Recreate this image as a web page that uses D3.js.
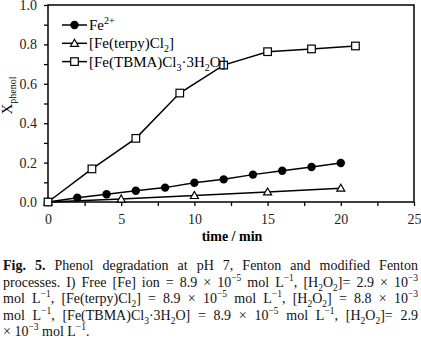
<!DOCTYPE html>
<html>
<head>
<meta charset="utf-8">
<script src="https://cdn.jsdelivr.net/npm/d3@7"></script>
<style>
  body { margin: 0; background: #fff; font-family: "Liberation Serif", "DejaVu Serif", serif; }
  #wrap { position: relative; width: 421px; height: 340px; overflow: hidden; }
  #caption { position: absolute; left: 3px; top: 258px; width: 415px; font-size: 14px; line-height: 16.6px; color: #111; }
  #caption .ln { text-align: justify; text-align-last: justify; white-space: nowrap; }
  #caption .ln.last { text-align-last: left; }
  #caption sub, #caption sup { font-size: 9.5px; line-height: 0; }
</style>
</head>
<body>
<div id="wrap">
<div id="chart"></div>
<div id="caption">
  <div class="ln"><b>Fig. 5.</b> Phenol degradation at pH 7, Fenton and modified Fenton</div>
  <div class="ln">processes. I) Free [Fe] ion = 8.9 × 10<sup>−5</sup> mol L<sup>−1</sup>, [H<sub>2</sub>O<sub>2</sub>]= 2.9 × 10<sup>−3</sup></div>
  <div class="ln">mol L<sup>−1</sup>, [Fe(terpy)Cl<sub>2</sub>] = 8.9 × 10<sup>−5</sup> mol L<sup>−1</sup>, [H<sub>2</sub>O<sub>2</sub>] = 8.8 × 10<sup>−3</sup></div>
  <div class="ln">mol L<sup>−1</sup>, [Fe(TBMA)Cl<sub>3</sub>·3H<sub>2</sub>O] = 8.9 × 10<sup>−5</sup> mol L<sup>−1</sup>, [H<sub>2</sub>O<sub>2</sub>]= 2.9</div>
  <div class="ln last">× 10<sup>−3</sup> mol L<sup>−1</sup>.</div>
</div>
</div>
<script>
// data
var fe2_time = [0, 2, 4, 6, 8, 10, 12, 14, 16, 18, 20];
var fe2_x = [0, 0.022, 0.039, 0.057, 0.073, 0.098, 0.115, 0.139, 0.159, 0.178, 0.198];
var terpy_time = [0, 5, 10, 15, 20];
var terpy_x = [0, 0.015, 0.033, 0.051, 0.070];
var tbma_time = [0, 3, 6, 9, 12, 15, 18, 21];
var tbma_x = [0, 0.168, 0.323, 0.553, 0.695, 0.763, 0.777, 0.792];
var x_ticks = [0, 5, 10, 15, 20, 25];
var y_ticks = [0, 0.2, 0.4, 0.6, 0.8, 1.0];

var margin = {top: 5, right: 7, bottom: 138, left: 48},
    width = 421 - margin.left - margin.right,
    height = 340 - margin.top - margin.bottom;

var svg = d3.select("#chart")
  .append("svg")
  .attr("width", 421)
  .attr("height", 340)
  .style("position", "absolute").style("left", 0).style("top", 0)
  .append("g")
  .attr("transform", "translate(" + margin.left + "," + margin.top + ")");

var x = d3.scaleLinear().domain([0, 25]).range([0, width]);
var y = d3.scaleLinear().domain([0, 1]).range([height, 0]);

var font = "Liberation Serif, DejaVu Serif, serif";

// minor ticks
svg.append("g")
  .attr("transform", "translate(0," + height + ")")
  .call(d3.axisBottom(x).tickValues(d3.range(0, 25.1, 2.5)).tickSize(4).tickFormat(""))
  .call(g => g.select(".domain").remove());
svg.append("g")
  .call(d3.axisLeft(y).tickValues(d3.range(0, 1.01, 0.1)).tickSize(4).tickFormat(""))
  .call(g => g.select(".domain").remove());

// X axis
svg.append("g")
  .attr("transform", "translate(0," + height + ")")
  .call(d3.axisBottom(x).tickValues(x_ticks).tickSize(0).tickPadding(12).tickFormat(d3.format("d")))
  .call(g => g.select(".domain").remove())
  .attr("font-family", font)
  .selectAll("text")
  .style("font-size", "14px").attr("fill", "#222");

// Y axis
svg.append("g")
  .call(d3.axisLeft(y).tickValues(y_ticks).tickSize(0).tickPadding(11).tickFormat(d3.format(".1f")))
  .call(g => g.select(".domain").remove())
  .attr("font-family", font)
  .selectAll("text")
  .style("font-size", "14px").attr("fill", "#222");

svg.selectAll(".tick line").attr("stroke", "#000").attr("stroke-width", 1.3);

// frame
svg.append("rect")
  .attr("x", 0).attr("y", 0).attr("width", width).attr("height", height)
  .attr("fill", "none").attr("stroke", "#000").attr("stroke-width", 1.5);

// axis titles
svg.append("text")
  .attr("x", width / 2 + 1)
  .attr("y", height + 39)
  .attr("text-anchor", "middle")
  .attr("font-family", font).style("font-size", "14px").style("font-weight", "bold")
  .text("time / min");

var yt = svg.append("text")
  .attr("transform", "translate(" + (12 - margin.left) + "," + (height / 2 - 8) + ")rotate(-90)")
  .attr("text-anchor", "middle")
  .attr("font-family", font).style("font-size", "15px");
yt.append("tspan").text("X");
yt.append("tspan").attr("dy", 4).style("font-size", "10px").text("phenol");

var line = d3.line().x(d => x(d[0])).y(d => y(d[1]));

function series(times, vals) { return times.map((t, i) => [t, vals[i]]); }

var fe2 = series(fe2_time, fe2_x),
    terpy = series(terpy_time, terpy_x),
    tbma = series(tbma_time, tbma_x);

[fe2, terpy, tbma].forEach(function(s) {
  svg.append("path").datum(s)
    .attr("d", line).attr("fill", "none").attr("stroke", "#000").attr("stroke-width", 1.5);
});

function markers(g, data, kind) {
  var sel = g.selectAll(null).data(data).enter();
  if (kind == "circle") {
    sel.append("circle")
      .attr("cx", d => x(d[0])).attr("cy", d => y(d[1])).attr("r", 4.2)
      .attr("fill", "#000");
  } else if (kind == "square") {
    sel.append("rect")
      .attr("x", d => x(d[0]) - 3.8).attr("y", d => y(d[1]) - 3.8)
      .attr("width", 7.6).attr("height", 7.6)
      .attr("fill", "#fff").attr("stroke", "#000").attr("stroke-width", 1.2);
  } else {
    sel.append("path")
      .attr("transform", d => "translate(" + x(d[0]) + "," + y(d[1]) + ")")
      .attr("d", "M0,-4L4,3L-4,3Z")
      .attr("fill", "#fff").attr("stroke", "#000").attr("stroke-width", 1.2);
  }
}

markers(svg.append("g"), fe2, "circle");
markers(svg.append("g"), terpy, "triangle");
markers(svg.append("g"), tbma, "square");

// legend
var legend = [
  {kind: "circle", parts: [["Fe", 0], ["2+", -1]]},
  {kind: "triangle", parts: [["[Fe(terpy)Cl", 0], ["2", 1], ["]", 0]]},
  {kind: "square", parts: [["[Fe(TBMA)Cl", 0], ["3", 1], ["·3H", 0], ["2", 1], ["O]", 0]]}
];
legend.forEach(function(item, i) {
  var ly = 20 + i * 18.3;
  var lg = svg.append("g").attr("transform", "translate(14," + ly + ")");
  lg.append("line").attr("x1", 0).attr("x2", 25).attr("y1", 0).attr("y2", 0)
    .attr("stroke", "#000").attr("stroke-width", 1.5);
  var fake = x.invert(12.5), fakey = y.invert(0);
  markers(lg, [[fake, fakey]], item.kind);
  var t = lg.append("text").attr("x", 27).attr("y", 5)
    .attr("font-family", font).style("font-size", "15px");
  var shift = 0;
  item.parts.forEach(function(p) {
    var dy = 0, size = "15px";
    if (p[1] == 1) { dy = 4 - shift; size = "10px"; shift = 4; }
    else if (p[1] == -1) { dy = -6 - shift; size = "10px"; shift = -6; }
    else { dy = -shift; shift = 0; }
    t.append("tspan").attr("dy", dy).style("font-size", size).text(p[0]);
  });
});
</script>
</body>
</html>
